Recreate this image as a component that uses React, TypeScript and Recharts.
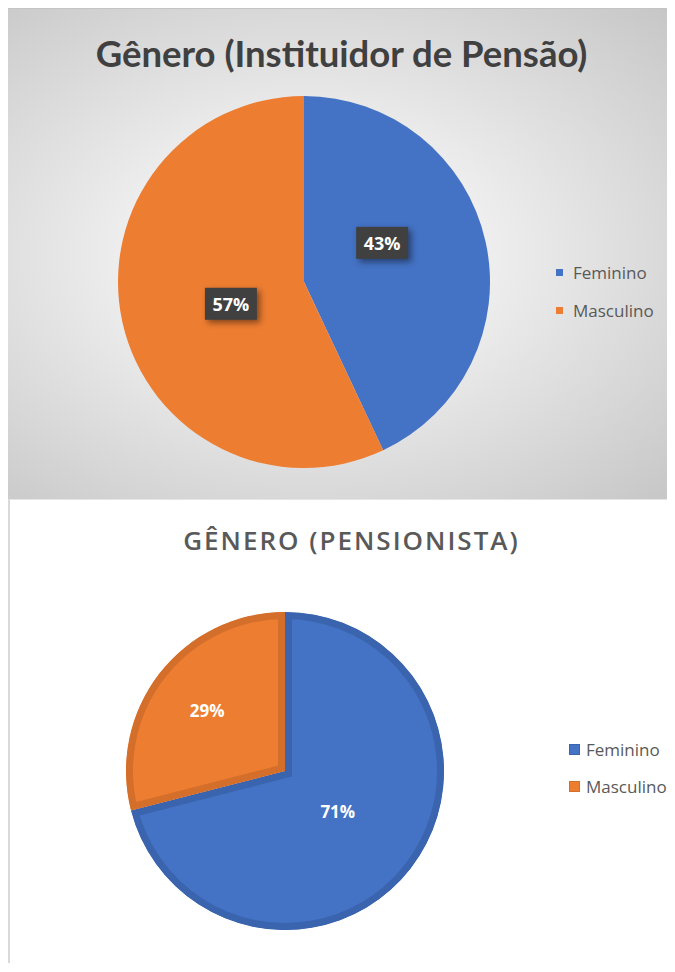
import React from 'react';
import { PieChart, Pie, Cell, Legend } from 'recharts';

// Categories and values
const CATEGORIES = ['Feminino', 'Masculino'];
const INSTITUIDOR_VALUES = [43, 57];
const PENSIONISTA_VALUES = [71, 29];

const COLORS = ['#4472c4', '#ed7d31'];
const BORDER_COLORS = ['#3a64ae', '#d46e2b'];

const RAD = Math.PI / 180;
const PANEL_W = 667;

const instituidorData = CATEGORIES.map((name, i) => ({ name, value: INSTITUIDOR_VALUES[i] }));
const pensionistaData = CATEGORIES.map((name, i) => ({ name, value: PENSIONISTA_VALUES[i] }));

// label placement per slice: fraction of radius + angle nudge (deg)
const TOP_LABEL_POS = [{ r: 0.47, shift: 14 }, { r: 0.41, shift: 4 }];
const BOTTOM_LABEL_POS = [{ r: 0.42, shift: 0 }, { r: 0.62, shift: 0 }];

const labelPos = (props: any, place: { r: number; shift: number }) => {
  const { cx, cy, midAngle, outerRadius } = props;
  const r = outerRadius * place.r;
  const a = midAngle + place.shift;
  return {
    x: cx + r * Math.cos(-a * RAD),
    y: cy + r * Math.sin(-a * RAD),
  };
};

const renderBoxLabel = (props: any) => {
  const { x, y } = labelPos(props, TOP_LABEL_POS[props.index]);
  const text = `${Math.round(props.percent * 100)}%`;
  return (
    <g>
      <rect
        x={x - 26}
        y={y - 16}
        width={52}
        height={32}
        fill="#404040"
        style={{ filter: 'drop-shadow(3px 3px 3px rgba(0,0,0,0.45))' }}
      />
      <text
        x={x}
        y={y}
        fill="#ffffff"
        textAnchor="middle"
        dominantBaseline="central"
        fontFamily="'Open Sans', sans-serif"
        fontWeight={700}
        fontSize={18}
      >
        {text}
      </text>
    </g>
  );
};

const renderPlainLabel = (props: any) => {
  const { x, y } = labelPos(props, BOTTOM_LABEL_POS[props.index]);
  return (
    <text
      x={x}
      y={y}
      fill="#ffffff"
      textAnchor="middle"
      dominantBaseline="central"
      fontFamily="'Open Sans', sans-serif"
      fontWeight={700}
      fontSize={17}
    >
      {`${Math.round(props.percent * 100)}%`}
    </text>
  );
};

const makeLegend = (box: number, gap: number, bordered: boolean) => () => (
  <div style={{ fontFamily: "'Open Sans', sans-serif", fontSize: 17, color: '#595959' }}>
    {CATEGORIES.map((name, i) => (
      <div key={name} style={{ display: 'flex', alignItems: 'center', height: gap, whiteSpace: 'nowrap' }}>
        <span
          style={{
            display: 'inline-block',
            width: box,
            height: box,
            background: COLORS[i],
            border: bordered ? `1px solid ${BORDER_COLORS[i]}` : 'none',
            boxSizing: 'border-box',
            marginRight: bordered ? 6 : 10,
          }}
        />
        <span>{name}</span>
      </div>
    ))}
  </div>
);

// Sector outline path (angles in degrees, counter-clockwise from 3 o'clock)
function describeSector(cx: number, cy: number, or: number, start: number, end: number) {
  const pt = (r: number, a: number) => [cx + r * Math.cos(-a * RAD), cy + r * Math.sin(-a * RAD)];
  const large = Math.abs(end - start) > 180 ? 1 : 0;
  const dir = start > end ? 1 : 0;
  const [sx, sy] = pt(or, start);
  const [ex, ey] = pt(or, end);
  return `M${cx},${cy}L${sx},${sy}A${or},${or},0,${large},${dir},${ex},${ey}Z`;
}

// slice with an inner border, clipped to its own outline
const BorderedSlice = (props: any) => {
  const { cx, cy, outerRadius, startAngle, endAngle, index } = props;
  const clipId = `pens-clip-${index}`;
  const d = describeSector(cx, cy, outerRadius, startAngle, endAngle);
  return (
    <g>
      <defs>
        <clipPath id={clipId}>
          <path d={d} />
        </clipPath>
      </defs>
      <path
        d={d}
        fill={COLORS[index]}
        stroke={BORDER_COLORS[index]}
        strokeWidth={14}
        clipPath={`url(#${clipId})`}
      />
    </g>
  );
};

export default function App() {
  return (
    <div style={{ width: PANEL_W }}>
      {/* Top chart: gradient background, boxed labels */}
      <div
        style={{
          position: 'relative',
          width: PANEL_W,
          height: 491,
          background: 'radial-gradient(ellipse at 45% 50%, #ffffff 0%, #f1f1f1 30%, #c6c6c6 100%)',
          borderTop: '1px solid #c4c4c4',
          boxSizing: 'border-box',
        }}
      >
        <div
          style={{
            position: 'absolute',
            top: 22,
            left: 0,
            width: PANEL_W,
            textAlign: 'center',
            fontFamily: 'Lato, sans-serif',
            fontWeight: 700,
            fontSize: 36.5,
            color: '#404040',
            zIndex: 1,
          }}
        >
          Gênero (Instituidor de Pensão)
        </div>
        <PieChart width={PANEL_W} height={490}>
          <Pie
            data={instituidorData}
            dataKey="value"
            nameKey="name"
            cx={291}
            cy={268}
            outerRadius={186}
            startAngle={90}
            endAngle={-270}
            stroke="none"
            label={renderBoxLabel}
            labelLine={false}
            isAnimationActive={false}
          >
            {instituidorData.map((entry, i) => (
              <Cell key={entry.name} fill={COLORS[i]} />
            ))}
          </Pie>
          <Legend
            content={makeLegend(7, 38, false)}
            wrapperStyle={{ left: 548, top: 244, width: 120 }}
          />
        </PieChart>
      </div>

      {/* Bottom chart: white background, bordered slices */}
      <div
        style={{
          position: 'relative',
          width: PANEL_W,
          height: 464,
          background: '#ffffff',
          borderLeft: '2px solid #d9d9d9',
          borderTop: '1px solid #e6e6e6',
          boxSizing: 'border-box',
        }}
      >
        <div
          style={{
            position: 'absolute',
            top: 22,
            left: 8,
            width: PANEL_W,
            textAlign: 'center',
            fontFamily: "'Open Sans', sans-serif",
            fontWeight: 600,
            fontSize: 26,
            letterSpacing: 2,
            color: '#595959',
            zIndex: 1,
          }}
        >
          GÊNERO (PENSIONISTA)
        </div>
        <PieChart width={PANEL_W - 2} height={463}>
          <Pie
            data={pensionistaData}
            dataKey="value"
            nameKey="name"
            cx={270}
            cy={266}
            outerRadius={159}
            startAngle={90}
            endAngle={-270}
            label={renderPlainLabel}
            labelLine={false}
            isAnimationActive={false}
            shape={BorderedSlice}
          >
            {pensionistaData.map((entry, i) => (
              <Cell key={entry.name} fill={COLORS[i]} />
            ))}
          </Pie>
          <Legend
            content={makeLegend(11, 37, true)}
            wrapperStyle={{ left: 559, top: 231, width: 106 }}
          />
        </PieChart>
      </div>
    </div>
  );
}
